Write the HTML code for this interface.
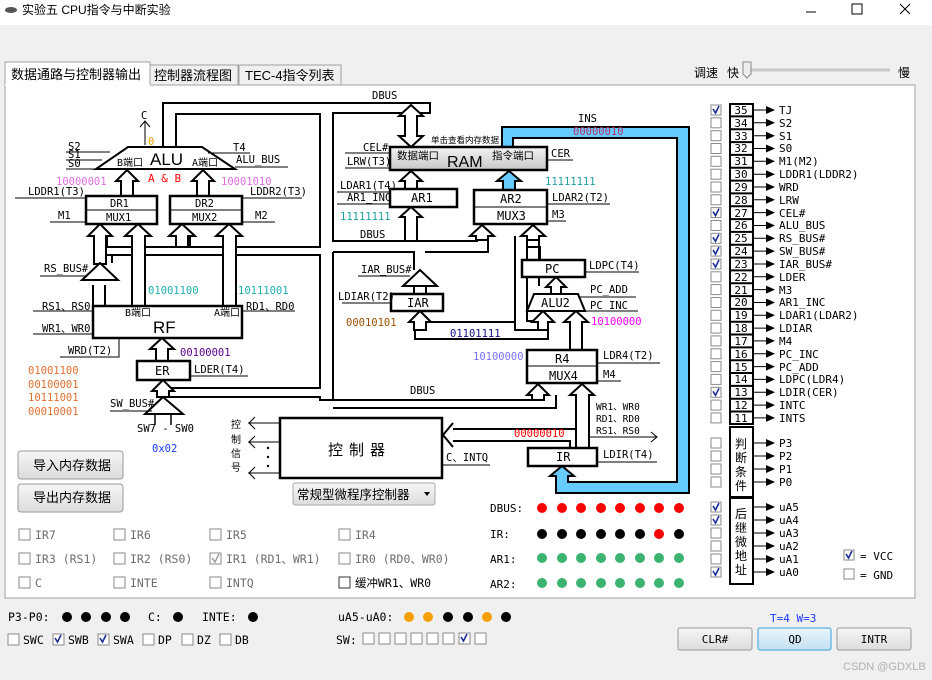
<!DOCTYPE html>
<html><head><meta charset="utf-8"><style>
html,body{margin:0;padding:0;background:#f0f0f0;}
svg{display:block}
.m{font-family:"DejaVu Sans Mono","Liberation Mono","Noto Sans CJK SC",monospace;font-size:10.5px;fill:#000}
.s{font-family:"Liberation Sans","Noto Sans CJK SC",sans-serif;font-size:12px;fill:#000}
.b{stroke:#000;stroke-width:2;fill:none}
.bx{stroke:#000;stroke-width:2.5;fill:#fff}
.ar{stroke:#000;stroke-width:2;fill:#fff;stroke-linejoin:miter}
.ln{stroke:#000;stroke-width:1;fill:none}
.cb{fill:#fff;stroke:#8a8a8a;stroke-width:1}
.ck{stroke:#1a2a9a;stroke-width:1.6;fill:none}
.g{fill:#6d6d6d}
</style></head><body>
<svg width="932" height="680" viewBox="0 0 932 680" xmlns="http://www.w3.org/2000/svg">
<!-- title bar -->
<rect x="0" y="0" width="932" height="25" fill="#fff"/>
<ellipse cx="11" cy="10" rx="6" ry="3" fill="#555"/>
<text x="22" y="14" class="s" style="font-size:12px">实验五 CPU指令与中断实验</text>
<line x1="806" y1="12" x2="816" y2="12" stroke="#000"/>
<rect x="852" y="4" width="10" height="10" fill="none" stroke="#000"/>
<path d="M900 4 L910 14 M910 4 L900 14" stroke="#000"/>
<!-- tabs -->
<rect x="150" y="65" width="88" height="20" fill="#f0f0f0" stroke="#a0a0a0"/>
<rect x="239" y="65" width="102" height="20" fill="#f0f0f0" stroke="#a0a0a0"/>
<rect x="5" y="62" width="145" height="24" fill="#fff" stroke="#a0a0a0"/>
<text x="11" y="79" class="s" style="font-size:13px">数据通路与控制器输出</text>
<text x="154" y="80" class="s" style="font-size:13px">控制器流程图</text>
<text x="245" y="80" class="s" style="font-size:13px">TEC-4指令列表</text>
<text x="694" y="77" class="s">调速</text><text x="727" y="77" class="s">快</text><text x="898" y="77" class="s">慢</text>
<line x1="748" y1="70" x2="890" y2="70" stroke="#c8c8c8" stroke-width="3"/>
<path d="M743 62 h8 v12 l-4 4 l-4 -4 z" fill="#eee" stroke="#888"/>
<!-- panel -->
<rect x="5" y="85" width="910" height="513" fill="#fff" stroke="#a0a0a0"/>
<line x1="5" y1="85" x2="150" y2="85" stroke="#fff" stroke-width="2"/>

<!-- ===== buses (lines) ===== -->
<path class="b" d="M163 147 V103 H430 V113 H418"/>
<path class="b" d="M404 113 H333 V241 H404"/>
<path class="b" d="M176 147 V114 H320 V247 H107"/>
<path class="b" d="M107 255 H320 V388 H170"/>
<path class="b" d="M170 397 H320 V400 H544"/>
<path class="b" d="M333 252 V400"/>
<path class="b" d="M333 252 H415"/>
<path class="b" d="M418 241 H477 V235"/>
<path class="b" d="M425 252 H488 V235"/>
<path class="b" d="M527 236 V247 H540 V260"/>
<path class="b" d="M539 236 V286"/>
<path class="b" d="M515 236 V330 H538"/>
<path class="b" d="M527 240 V321 H538"/>
<path class="b" d="M415 330 V339 H548 V322"/>
<path class="b" d="M426 322 H516"/>
<path class="b" d="M107 247 V236 M190 247 V236 M112 255 V263"/>
<path class="b" d="M93 306 V285 M105 306 V285"/>
<path class="b" d="M544 400 V395 M556 395 V408 H333"/>
<path class="b" d="M453 429 H576 V395"/>
<path class="b" d="M453 441 H570 V448"/>
<path class="b" d="M589 448 V395"/>
<path class="ar" d="M453 423 L443 435 L453 447"/>
<line class="ln" x1="589" y1="437" x2="657" y2="437"/><path class="ln" d="M651 432 L657 437 L651 442"/>

<!-- blue INS band -->
<polygon points="502,147 502,127 689,127 689,493 556,493 556,476 550,476 562,466 574,476 568,476 568,482 677,482 677,138 513,138 513,147" fill="#66ccff" stroke="#000" stroke-width="2"/>
<text x="578" y="122" class="m">INS</text>
<text x="573" y="135" class="m" fill="#b03060" style="fill:#b0306a">00000010</text>

<!-- hollow arrows -->
<g class="ar">
<polygon points="127,170 138,181 133,181 133,196 121,196 121,181 116,181"/>
<polygon points="203,170 214,181 209,181 209,196 197,196 197,181 192,181"/>
<polygon points="100,224 112,236 106,236 106,264 94,264 94,236 88,236"/>
<polygon points="138,224 151,236 145,236 145,306 132,306 132,236 125,236"/>
<polygon points="182,224 195,236 188,236 188,247 176,247 176,236 169,236"/>
<polygon points="229,224 242,236 236,236 236,306 223,306 223,236 216,236"/>
<polygon points="162,338 174,349 168,349 168,361 156,361 156,349 150,349"/>
<polygon points="163,380 174,391 169,391 169,397 157,397 157,391 152,391"/>
<polygon points="411,105 423,116 417,116 417,136 423,136 411,147 399,136 405,136 405,116 399,116"/>
<polygon points="411,171 422,181 417,181 417,189 405,189 405,181 400,181"/>
<polygon points="411,207 422,217 417,217 417,241 405,241 405,217 400,217"/>
<polygon points="482,225 494,236 488,236 488,240 476,240 476,236 470,236"/>
<polygon points="533,225 545,236 539,236 539,240 527,240 527,236 521,236"/>
<polygon points="420,311 431,322 426,322 426,330 414,330 414,322 409,322"/>
<polygon points="556,277 566,287 561,287 561,294 551,294 551,287 546,287"/>
<polygon points="543,311 554,322 548,322 548,330 538,330 538,322 532,322"/>
<polygon points="576,311 588,322 582,322 582,350 570,350 570,322 564,322"/>
<polygon points="538,384 549,395 544,395 544,400 532,400 532,395 527,395"/>
<polygon points="582,384 594,395 589,395 589,448 576,448 576,395 570,395"/>
</g>
<polygon points="509,171 521,181 515,181 515,190 503,190 503,181 497,181" fill="#66ccff" stroke="#000" stroke-width="2"/>
<!-- buffers -->
<polygon class="ar" points="100,263 118,280 82,280"/>
<polygon class="ar" points="420,270 437,286 403,286"/>
<path class="b" d="M414 286 V294 M426 286 V294 M414 270 V252"/>
<polygon class="ar" points="163,397 183,414 145,414"/>
<path class="ln" d="M155 414 V425 M171 414 V425" style="stroke-width:1.5"/>

<!-- ALU -->
<polygon points="128,147 202,147 235,169 96,169" fill="#fff" stroke="#000" stroke-width="2"/>
<text x="150" y="165" class="s" style="font-size:17px">ALU</text>
<text x="117" y="166" class="m" style="font-size:10px">B端口</text>
<text x="192" y="166" class="m" style="font-size:10px">A端口</text>
<path class="ln" d="M145 145 V121 M140 127 L145 121 L150 127"/>
<text x="141" y="119" class="m">C</text>
<text x="148" y="145" class="m" style="fill:#f0a000">0</text>
<text x="68" y="150" class="m">S2</text><text x="68" y="158" class="m">S1</text><text x="68" y="167" class="m">S0</text>
<path class="ln" d="M66 152 H110 M66 160 H102 M66 169 H96"/>
<text x="233" y="151" class="m">T4</text><text x="236" y="163" class="m">ALU_BUS</text>
<path class="ln" d="M208 153 H250 M235 167 H288"/>
<text x="148" y="182" class="m" style="fill:#f00;font-size:11px">A &amp; B</text>
<text x="56" y="185" class="m" style="fill:#e070e0">10000001</text>
<text x="221" y="185" class="m" style="fill:#e070e0">10001010</text>
<!-- DR/MUX -->
<rect class="bx" x="86" y="196" width="71" height="28"/><line class="ln" x1="86" y1="210" x2="157" y2="210"/>
<text x="110" y="207" class="m">DR1</text><text x="106" y="221" class="m">MUX1</text>
<rect class="bx" x="170" y="196" width="72" height="28"/><line class="ln" x1="170" y1="210" x2="242" y2="210"/>
<text x="195" y="207" class="m">DR2</text><text x="192" y="221" class="m">MUX2</text>
<text x="28" y="195" class="m">LDDR1(T3)</text><line class="ln" x1="15" y1="198" x2="86" y2="198"/>
<text x="250" y="195" class="m">LDDR2(T3)</text><line class="ln" x1="242" y1="198" x2="302" y2="198"/>
<text x="58" y="219" class="m">M1</text><line class="ln" x1="50" y1="222" x2="86" y2="222"/>
<text x="255" y="219" class="m">M2</text><line class="ln" x1="242" y1="222" x2="275" y2="222"/>
<text x="44" y="272" class="m">RS_BUS#</text><line class="ln" x1="40" y1="276" x2="86" y2="276"/>
<!-- RF -->
<text x="148" y="294" class="m" style="fill:#20b0b0">01001100</text>
<text x="238" y="294" class="m" style="fill:#20b0b0">10111001</text>
<rect class="bx" x="93" y="306" width="149" height="32"/>
<text x="153" y="333" class="s" style="font-size:17px">RF</text>
<text x="125" y="316" class="m" style="font-size:10px">B端口</text>
<text x="214" y="316" class="m" style="font-size:10px">A端口</text>
<text x="42" y="310" class="m">RS1、RS0</text><line class="ln" x1="33" y1="311" x2="93" y2="311"/>
<text x="42" y="332" class="m">WR1、WR0</text><line class="ln" x1="33" y1="334" x2="93" y2="334"/>
<text x="246" y="310" class="m">RD1、RD0</text><line class="ln" x1="242" y1="311" x2="295" y2="311"/>
<text x="68" y="354" class="m">WRD(T2)</text><path class="ln" d="M60 357 H119 V338"/>
<text x="180" y="356" class="m" style="fill:#600090">00100001</text>
<rect class="bx" x="137" y="361" width="53" height="19"/><text x="155" y="375" class="m" style="font-size:12px">ER</text>
<text x="194" y="373" class="m">LDER(T4)</text><line class="ln" x1="190" y1="376" x2="248" y2="376"/>
<g class="m" style="fill:#e07030"><text x="28" y="374">01001100</text><text x="28" y="388">00100001</text><text x="28" y="401">10111001</text><text x="28" y="415">00010001</text></g>
<text x="110" y="407" class="m">SW_BUS#</text><line class="ln" x1="110" y1="411" x2="152" y2="411"/>
<text x="137" y="432" class="m">SW7 - SW0</text>
<text x="152" y="452" class="m" style="fill:#1a3cff">0x02</text>

<!-- RAM -->
<text x="372" y="99" class="m">DBUS</text>
<defs><linearGradient id="gr" x1="0" y1="0" x2="0" y2="1"><stop offset="0" stop-color="#f2f2f2"/><stop offset="1" stop-color="#c8c8c8"/></linearGradient>
<linearGradient id="bt" x1="0" y1="0" x2="0" y2="1"><stop offset="0" stop-color="#f6f6f6"/><stop offset="1" stop-color="#dcdcdc"/></linearGradient>
<linearGradient id="bq" x1="0" y1="0" x2="0" y2="1"><stop offset="0" stop-color="#eaf6fd"/><stop offset="1" stop-color="#c4e0f0"/></linearGradient></defs>
<rect x="390" y="147" width="157" height="23" fill="url(#gr)" stroke="#000" stroke-width="2.5"/>
<text x="447" y="167" class="s" style="font-size:16px">RAM</text>
<text x="397" y="159" class="m" style="font-size:10.5px">数据端口</text>
<text x="492" y="159" class="m" style="font-size:10.5px">指令端口</text>
<text x="431" y="143" class="s" style="font-size:8.5px">单击查看内存数据</text>
<text x="363" y="151" class="m">CEL#</text><line class="ln" x1="345" y1="153" x2="390" y2="153"/>
<text x="347" y="165" class="m">LRW(T3)</text><line class="ln" x1="345" y1="168" x2="390" y2="168"/>
<text x="551" y="157" class="m">CER</text><line class="ln" x1="547" y1="160" x2="573" y2="160"/>
<rect class="bx" x="390" y="189" width="67" height="18"/><text x="411" y="202" class="m" style="font-size:12px">AR1</text>
<text x="340" y="189" class="m">LDAR1(T4)</text><line class="ln" x1="337" y1="192" x2="390" y2="192"/>
<text x="347" y="201" class="m">AR1_INC</text><line class="ln" x1="337" y1="204" x2="390" y2="204"/>
<text x="340" y="220" class="m" style="fill:#20a0a0">11111111</text>
<text x="360" y="238" class="m">DBUS</text>
<rect class="bx" x="474" y="190" width="73" height="34"/><line class="ln" x1="474" y1="207" x2="547" y2="207"/>
<text x="500" y="203" class="m" style="font-size:12px">AR2</text><text x="497" y="220" class="m" style="font-size:12px">MUX3</text>
<text x="545" y="185" class="m" style="fill:#20a0a0">11111111</text>
<text x="552" y="201" class="m">LDAR2(T2)</text><line class="ln" x1="547" y1="204" x2="610" y2="204"/>
<text x="552" y="218" class="m">M3</text><line class="ln" x1="547" y1="221" x2="566" y2="221"/>
<text x="361" y="273" class="m">IAR_BUS#</text><line class="ln" x1="358" y1="276" x2="410" y2="276"/>
<rect class="bx" x="391" y="294" width="52" height="17"/><text x="407" y="307" class="m" style="font-size:12px">IAR</text>
<text x="338" y="300" class="m">LDIAR(T2)</text><line class="ln" x1="342" y1="303" x2="391" y2="303"/>
<text x="346" y="326" class="m" style="fill:#a05000">00010101</text>
<text x="450" y="337" class="m" style="fill:#10108a">01101111</text>
<rect class="bx" x="522" y="260" width="63" height="17"/><text x="545" y="273" class="m" style="font-size:12px">PC</text>
<text x="589" y="269" class="m">LDPC(T4)</text><line class="ln" x1="585" y1="272" x2="639" y2="272"/>
<polygon points="534,294 578,294 585,311 527,311" fill="#fff" stroke="#000" stroke-width="2"/>
<text x="541" y="307" class="m" style="font-size:12px">ALU2</text>
<text x="590" y="293" class="m">PC_ADD</text><line class="ln" x1="578" y1="297" x2="636" y2="297"/>
<text x="590" y="309" class="m">PC_INC</text><line class="ln" x1="585" y1="311" x2="638" y2="311"/>
<text x="591" y="325" class="m" style="fill:#ff00ff">10100000</text>
<text x="473" y="360" class="m" style="fill:#7a70ff">10100000</text>
<rect class="bx" x="527" y="350" width="70" height="33"/><line class="ln" x1="527" y1="366" x2="597" y2="366"/>
<text x="555" y="363" class="m" style="font-size:12px">R4</text><text x="549" y="380" class="m" style="font-size:12px">MUX4</text>
<text x="603" y="359" class="m">LDR4(T2)</text><line class="ln" x1="597" y1="363" x2="660" y2="363"/>
<text x="603" y="378" class="m">M4</text><line class="ln" x1="597" y1="381" x2="621" y2="381"/>
<text x="410" y="394" class="m">DBUS</text>
<text x="596" y="410" class="m" style="font-size:9.5px">WR1、WR0</text>
<text x="596" y="422" class="m" style="font-size:9.5px">RD1、RD0</text>
<text x="596" y="434" class="m" style="font-size:9.5px">RS1、RS0</text>
<text x="514" y="437" class="m" style="fill:#f00">00000010</text>
<rect class="bx" x="528" y="448" width="69" height="18"/><text x="556" y="461" class="m" style="font-size:12px">IR</text>
<text x="603" y="458" class="m">LDIR(T4)</text><line class="ln" x1="597" y1="462" x2="657" y2="462"/>
<!-- controller -->
<rect x="280" y="418" width="162" height="60" fill="#fff" stroke="#000" stroke-width="2.5"/>
<text x="328" y="455" class="s" style="font-size:15px;letter-spacing:6px">控制器</text>
<path class="ln" d="M248 423 H280 M248 442 H280 M248 473 H280 M255 417 L249 423 L255 429 M255 436 L249 442 L255 448 M255 467 L249 473 L255 479"/>
<circle cx="268" cy="448" r="1.2"/><circle cx="268" cy="457" r="1.2"/><circle cx="268" cy="466" r="1.2"/>
<g class="s" style="font-size:10px"><text x="231" y="428">控</text><text x="231" y="443">制</text><text x="231" y="457">信</text><text x="231" y="471">号</text></g>
<text x="446" y="461" class="m">C、INTQ</text><line class="ln" x1="442" y1="465" x2="490" y2="465"/>
<rect x="293" y="483" width="142" height="22" rx="2" fill="url(#bt)" stroke="#aaa"/>
<text x="297" y="499" class="s" style="font-size:12.5px">常规型微程序控制器</text>
<path d="M424 492 l6 0 l-3 4 z" fill="#000"/>
<rect x="18" y="451" width="105" height="28" rx="3" fill="url(#bt)" stroke="#999"/>
<text x="33" y="470" class="s" style="font-size:13px">导入内存数据</text>
<rect x="18" y="484" width="105" height="28" rx="3" fill="url(#bt)" stroke="#999"/>
<text x="33" y="502" class="s" style="font-size:13px">导出内存数据</text>
<!-- LEDs -->
<g class="m" style="font-size:11px"><text x="490" y="512">DBUS:</text><text x="490" y="538">IR:</text><text x="490" y="563">AR1:</text><text x="490" y="588">AR2:</text></g>
<g fill="#f00"><circle cx="542" cy="508" r="5"/><circle cx="562" cy="508" r="5"/><circle cx="581" cy="508" r="5"/><circle cx="601" cy="508" r="5"/><circle cx="620" cy="508" r="5"/><circle cx="640" cy="508" r="5"/><circle cx="659" cy="508" r="5"/><circle cx="679" cy="508" r="5"/></g>
<g fill="#000"><circle cx="542" cy="534" r="5"/><circle cx="562" cy="534" r="5"/><circle cx="581" cy="534" r="5"/><circle cx="601" cy="534" r="5"/><circle cx="620" cy="534" r="5"/><circle cx="640" cy="534" r="5"/><circle cx="659" cy="534" r="5" fill="#f00"/><circle cx="679" cy="534" r="5"/></g>
<g fill="#3cb371"><circle cx="542" cy="558" r="5"/><circle cx="562" cy="558" r="5"/><circle cx="581" cy="558" r="5"/><circle cx="601" cy="558" r="5"/><circle cx="620" cy="558" r="5"/><circle cx="640" cy="558" r="5"/><circle cx="659" cy="558" r="5"/><circle cx="679" cy="558" r="5"/>
<circle cx="542" cy="583" r="5"/><circle cx="562" cy="583" r="5"/><circle cx="581" cy="583" r="5"/><circle cx="601" cy="583" r="5"/><circle cx="620" cy="583" r="5"/><circle cx="640" cy="583" r="5"/><circle cx="659" cy="583" r="5"/><circle cx="679" cy="583" r="5"/></g>
<!-- IR checkboxes -->
<g>
<rect class="cb" x="19" y="529" width="11" height="11"/><rect class="cb" x="114" y="529" width="11" height="11"/><rect class="cb" x="210" y="529" width="11" height="11"/><rect class="cb" x="339" y="529" width="11" height="11"/>
<rect class="cb" x="19" y="553" width="11" height="11"/><rect class="cb" x="114" y="553" width="11" height="11"/><rect class="cb" x="210" y="553" width="11" height="11"/><rect class="cb" x="339" y="553" width="11" height="11"/>
<rect class="cb" x="19" y="577" width="11" height="11"/><rect class="cb" x="114" y="577" width="11" height="11"/><rect class="cb" x="210" y="577" width="11" height="11"/><rect class="cb" x="339" y="577" width="11" height="11" style="stroke:#333"/>
<path d="M212 558 l3 4 l4 -8" stroke="#999" stroke-width="1.4" fill="none"/>
</g>
<g class="m g" style="font-size:11.5px">
<text x="35" y="539">IR7</text><text x="130" y="539">IR6</text><text x="226" y="539">IR5</text><text x="355" y="539">IR4</text>
<text x="35" y="563">IR3 (RS1)</text><text x="130" y="563">IR2 (RS0)</text><text x="226" y="563">IR1 (RD1、WR1)</text><text x="355" y="563">IR0 (RD0、WR0)</text>
<text x="35" y="587">C</text><text x="130" y="587">INTE</text><text x="226" y="587">INTQ</text>
</g>
<text x="355" y="587" class="m" style="font-size:11.5px">缓冲WR1、WR0</text>

<!-- right panel -->
<g>
<rect x="730" y="104" width="23" height="320" fill="#fff" stroke="#000" stroke-width="2"/>
<path class="ln" style="stroke-width:2" d="M730 116.4H753M730 129.3H753M730 142.1H753M730 154.9H753M730 167.8H753M730 180.6H753M730 193.4H753M730 206.2H753M730 219.1H753M730 231.9H753M730 244.7H753M730 257.6H753M730 270.4H753M730 283.2H753M730 296.1H753M730 308.9H753M730 321.7H753M730 334.5H753M730 347.4H753M730 360.2H753M730 373H753M730 385.9H753M730 398.7H753M730 411.5H753"/>
<rect x="730" y="427" width="23" height="70" fill="#fff" stroke="#000" stroke-width="2"/>
<rect x="730" y="498" width="23" height="86" fill="#fff" stroke="#000" stroke-width="2"/>
</g>
<g class="m" text-anchor="middle" style="font-size:11px">
<text x="741" y="114">35</text><text x="741" y="127">34</text><text x="741" y="140">33</text><text x="741" y="152">32</text><text x="741" y="165">31</text><text x="741" y="178">30</text><text x="741" y="191">29</text><text x="741" y="204">28</text><text x="741" y="217">27</text><text x="741" y="229">26</text><text x="741" y="242">25</text><text x="741" y="255">24</text><text x="741" y="268">23</text><text x="741" y="281">22</text><text x="741" y="294">21</text><text x="741" y="306">20</text><text x="741" y="319">19</text><text x="741" y="332">18</text><text x="741" y="345">17</text><text x="741" y="358">16</text><text x="741" y="371">15</text><text x="741" y="383">14</text><text x="741" y="396">13</text><text x="741" y="409">12</text><text x="741" y="422">11</text>
</g>
<g class="s" text-anchor="middle" style="font-size:12px">
<text x="741" y="448">判</text><text x="741" y="462">断</text><text x="741" y="476">条</text><text x="741" y="490">件</text>
<text x="741" y="518">后</text><text x="741" y="532">继</text><text x="741" y="546">微</text><text x="741" y="560">地</text><text x="741" y="574">址</text>
</g>
<!-- arrows right -->
<g stroke="#000" stroke-width="1">
<path d="M753 110H768M753 122.8H768M753 135.7H768M753 148.5H768M753 161.3H768M753 174.2H768M753 187H768M753 199.8H768M753 212.6H768M753 225.5H768M753 238.3H768M753 251.1H768M753 264H768M753 276.8H768M753 289.6H768M753 302.5H768M753 315.3H768M753 328.1H768M753 340.9H768M753 353.8H768M753 366.6H768M753 379.4H768M753 392.3H768M753 405.1H768M753 417.9H768M753 443H768M753 456H768M753 469H768M753 482H768M753 507H768M753 520H768M753 533H768M753 546H768M753 559H768M753 572H768"/>
</g>
<g fill="#000">
<path d="M766 106l9 4l-9 4zM766 118.8l9 4l-9 4zM766 131.7l9 4l-9 4zM766 144.5l9 4l-9 4zM766 157.3l9 4l-9 4zM766 170.2l9 4l-9 4zM766 183l9 4l-9 4zM766 195.8l9 4l-9 4zM766 208.6l9 4l-9 4zM766 221.5l9 4l-9 4zM766 234.3l9 4l-9 4zM766 247.1l9 4l-9 4zM766 260l9 4l-9 4zM766 272.8l9 4l-9 4zM766 285.6l9 4l-9 4zM766 298.5l9 4l-9 4zM766 311.3l9 4l-9 4zM766 324.1l9 4l-9 4zM766 336.9l9 4l-9 4zM766 349.8l9 4l-9 4zM766 362.6l9 4l-9 4zM766 375.4l9 4l-9 4zM766 388.3l9 4l-9 4zM766 401.1l9 4l-9 4zM766 413.9l9 4l-9 4zM766 439l9 4l-9 4zM766 452l9 4l-9 4zM766 465l9 4l-9 4zM766 478l9 4l-9 4zM766 503l9 4l-9 4zM766 516l9 4l-9 4zM766 529l9 4l-9 4zM766 542l9 4l-9 4zM766 555l9 4l-9 4zM766 568l9 4l-9 4z"/>
</g>
<g class="m" style="font-size:11px">
<text x="779" y="114">TJ</text><text x="779" y="127">S2</text><text x="779" y="140">S1</text><text x="779" y="152">S0</text><text x="779" y="165">M1(M2)</text><text x="779" y="178">LDDR1(LDDR2)</text><text x="779" y="191">WRD</text><text x="779" y="204">LRW</text><text x="779" y="217">CEL#</text><text x="779" y="229">ALU_BUS</text><text x="779" y="242">RS_BUS#</text><text x="779" y="255">SW_BUS#</text><text x="779" y="268">IAR_BUS#</text><text x="779" y="281">LDER</text><text x="779" y="294">M3</text><text x="779" y="306">AR1_INC</text><text x="779" y="319">LDAR1(LDAR2)</text><text x="779" y="332">LDIAR</text><text x="779" y="345">M4</text><text x="779" y="358">PC_INC</text><text x="779" y="371">PC_ADD</text><text x="779" y="383">LDPC(LDR4)</text><text x="779" y="396">LDIR(CER)</text><text x="779" y="409">INTC</text><text x="779" y="422">INTS</text>
<text x="779" y="447">P3</text><text x="779" y="460">P2</text><text x="779" y="473">P1</text><text x="779" y="486">P0</text>
<text x="779" y="511">uA5</text><text x="779" y="524">uA4</text><text x="779" y="537">uA3</text><text x="779" y="550">uA2</text><text x="779" y="563">uA1</text><text x="779" y="576">uA0</text>
<text x="860" y="560">= VCC</text><text x="860" y="579">= GND</text>
</g>
<!-- right checkboxes -->
<g>
<rect class="cb" x="711" y="105" width="10" height="10"/><rect class="cb" x="711" y="117.8" width="10" height="10"/><rect class="cb" x="711" y="130.7" width="10" height="10"/><rect class="cb" x="711" y="143.5" width="10" height="10"/><rect class="cb" x="711" y="156.3" width="10" height="10"/><rect class="cb" x="711" y="169.2" width="10" height="10"/><rect class="cb" x="711" y="182" width="10" height="10"/><rect class="cb" x="711" y="194.8" width="10" height="10"/><rect class="cb" x="711" y="207.6" width="10" height="10"/><rect class="cb" x="711" y="220.5" width="10" height="10"/><rect class="cb" x="711" y="233.3" width="10" height="10"/><rect class="cb" x="711" y="246.1" width="10" height="10"/><rect class="cb" x="711" y="259" width="10" height="10"/><rect class="cb" x="711" y="271.8" width="10" height="10"/><rect class="cb" x="711" y="284.6" width="10" height="10"/><rect class="cb" x="711" y="297.5" width="10" height="10"/><rect class="cb" x="711" y="310.3" width="10" height="10"/><rect class="cb" x="711" y="323.1" width="10" height="10"/><rect class="cb" x="711" y="335.9" width="10" height="10"/><rect class="cb" x="711" y="348.8" width="10" height="10"/><rect class="cb" x="711" y="361.6" width="10" height="10"/><rect class="cb" x="711" y="374.4" width="10" height="10"/><rect class="cb" x="711" y="387.3" width="10" height="10"/><rect class="cb" x="711" y="400.1" width="10" height="10"/><rect class="cb" x="711" y="412.9" width="10" height="10"/>
<rect class="cb" x="711" y="438" width="10" height="10"/><rect class="cb" x="711" y="451" width="10" height="10"/><rect class="cb" x="711" y="464" width="10" height="10"/><rect class="cb" x="711" y="477" width="10" height="10"/>
<rect class="cb" x="711" y="502" width="10" height="10"/><rect class="cb" x="711" y="515" width="10" height="10"/><rect class="cb" x="711" y="528" width="10" height="10"/><rect class="cb" x="711" y="541" width="10" height="10"/><rect class="cb" x="711" y="554" width="10" height="10"/><rect class="cb" x="711" y="567" width="10" height="10"/>
<rect class="cb" x="844" y="550" width="10" height="10"/><rect class="cb" x="844" y="569" width="10" height="10"/>
</g>
<path class="ck" d="M713 109l2.5 4l3.5-7M713 211.6l2.5 4l3.5-7M713 237.3l2.5 4l3.5-7M713 250.1l2.5 4l3.5-7M713 263l2.5 4l3.5-7M713 391.3l2.5 4l3.5-7M713 506l2.5 4l3.5-7M713 519l2.5 4l3.5-7M713 571l2.5 4l3.5-7M846 554l2.5 4l3.5-7"/>

<!-- bottom status -->
<g class="m" style="font-size:11.5px">
<text x="8" y="621">P3-P0:</text><text x="148" y="621">C:</text><text x="202" y="621">INTE:</text><text x="338" y="621">uA5-uA0:</text>
<text x="23" y="644">SWC</text><text x="68" y="644">SWB</text><text x="113" y="644">SWA</text><text x="158" y="644">DP</text><text x="197" y="644">DZ</text><text x="235" y="644">DB</text><text x="336" y="644">SW:</text>
</g>
<g fill="#000"><circle cx="67" cy="617" r="5"/><circle cx="86" cy="617" r="5"/><circle cx="106" cy="617" r="5"/><circle cx="125" cy="617" r="5"/><circle cx="178" cy="617" r="5"/><circle cx="253" cy="617" r="5"/>
<circle cx="409" cy="617" r="5" fill="#f5a000"/><circle cx="428" cy="617" r="5" fill="#f5a000"/><circle cx="448" cy="617" r="5"/><circle cx="468" cy="617" r="5"/><circle cx="487" cy="617" r="5" fill="#f5a000"/><circle cx="506" cy="617" r="5"/></g>
<g>
<rect class="cb" x="8" y="634" width="11" height="11"/><rect class="cb" x="53" y="634" width="11" height="11"/><rect class="cb" x="98" y="634" width="11" height="11"/><rect class="cb" x="143" y="634" width="11" height="11"/><rect class="cb" x="182" y="634" width="11" height="11"/><rect class="cb" x="220" y="634" width="11" height="11"/>
<rect class="cb" x="363" y="633" width="11" height="11"/><rect class="cb" x="379" y="633" width="11" height="11"/><rect class="cb" x="395" y="633" width="11" height="11"/><rect class="cb" x="411" y="633" width="11" height="11"/><rect class="cb" x="427" y="633" width="11" height="11"/><rect class="cb" x="443" y="633" width="11" height="11"/><rect class="cb" x="459" y="633" width="11" height="11"/><rect class="cb" x="475" y="633" width="11" height="11"/>
</g>
<path class="ck" d="M55 638l2.5 4l3.5-7M100 638l2.5 4l3.5-7M461 637l2.5 4l3.5-7"/>
<text x="770" y="622" class="m" style="fill:#1a3cff;font-size:11px">T=4 W=3</text>
<rect x="678" y="628" width="74" height="22" rx="2" fill="url(#bt)" stroke="#999"/>
<rect x="758" y="628" width="73" height="22" rx="2" fill="url(#bq)" stroke="#3aa0e0"/>
<rect x="837" y="628" width="74" height="22" rx="2" fill="url(#bt)" stroke="#999"/>
<g class="m" text-anchor="middle" style="font-size:11px"><text x="715" y="643">CLR#</text><text x="795" y="643">QD</text><text x="874" y="643">INTR</text></g>
<text x="843" y="670" class="s" style="font-size:11px;fill:#b0b0b0">CSDN @GDXLB</text>
</svg>
</body></html>
